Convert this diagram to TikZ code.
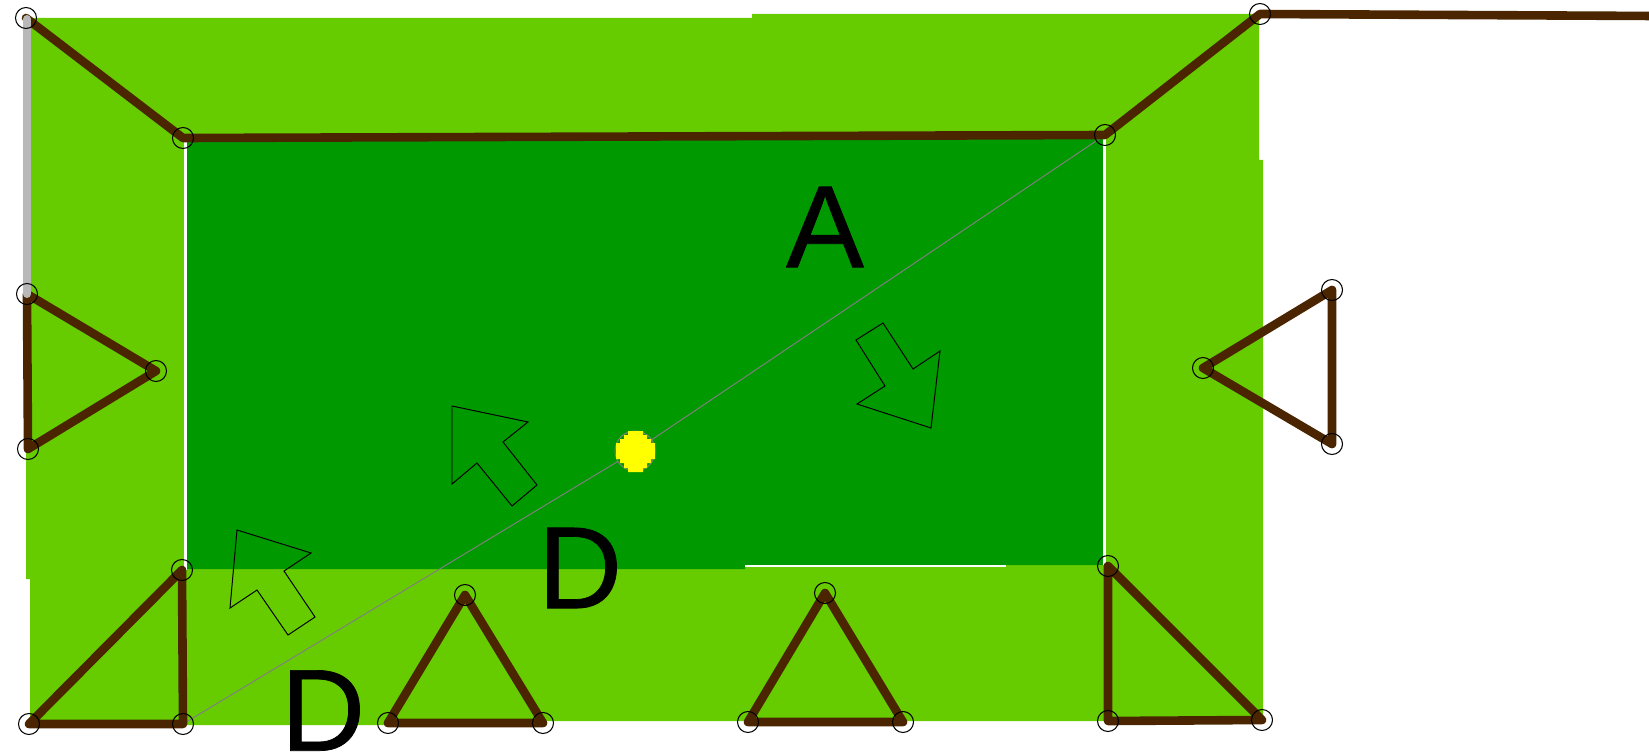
\documentclass[tikz,border=0pt]{standalone}
\usepackage{fontspec}
\usepackage{tikz}
\usetikzlibrary{backgrounds}
\setmainfont{Liberation Sans}
\newfontfamily\letterfont[FakeBold=0.6]{Liberation Sans}
\definecolor{lightgreen}{HTML}{66CC00}
\definecolor{darkgreen}{HTML}{009900}
\definecolor{wire}{HTML}{4A2500}
\definecolor{rail}{HTML}{B8B8B8}
\definecolor{sunyellow}{HTML}{FFFF00}

\begin{document}
\begin{tikzpicture}[
  x=0.025cm, y=-0.025cm,
  vertex/.style={circle, draw=black, line width=0.75pt, minimum size=0.525cm, inner sep=0pt},
  wireline/.style={draw=wire, line width=0.215cm, line join=round, line cap=round},
  arrowmark/.style={draw=black, line width=0.7pt},
  letter/.style={inner sep=0pt, font=\fontsize{83}{83}\letterfont},
  sun/.style={circle, fill=darkgreen, draw=gray, line width=0.7pt, minimum size=1cm, inner sep=0pt}
]
  \useasboundingbox (0,0) rectangle (1649,755);

  % outer ring of corners
  \node[vertex] (ringa) at (26,18) {};
  \node[vertex] (ringb) at (183,138) {};
  \node[vertex] (ringc) at (1105,135) {};
  \node[vertex] (ringd) at (1260,14) {};
  \coordinate (ringend) at (1655,16);

  % left triangle
  \node[vertex] (lefta) at (27,294) {};
  \node[vertex] (leftb) at (156,371) {};
  \node[vertex] (leftc) at (28,449) {};

  % right triangle
  \node[vertex] (righta) at (1203,368) {};
  \node[vertex] (rightb) at (1332,290) {};
  \node[vertex] (rightc) at (1332,444) {};

  % corner bottom left
  \node[vertex] (cornera) at (29,724) {};
  \node[vertex] (cornerb) at (183,724) {};
  \node[vertex] (cornerc) at (182,570) {};

  % bottom triangles
  \node[vertex] (botaa) at (388,723) {};
  \node[vertex] (botab) at (465,595) {};
  \node[vertex] (botac) at (543,723) {};
  \node[vertex] (botba) at (748,722) {};
  \node[vertex] (botbb) at (825,593) {};
  \node[vertex] (botbc) at (903,722) {};

  % corner bottom right
  \node[vertex] (cornerd) at (1108,566) {};
  \node[vertex] (cornere) at (1108,721) {};
  \node[vertex] (cornerf) at (1262,720) {};

  % centre
  \node[sun] (centre) at (635,451) {};
  \fill[sunyellow] (628,431) -- (643,431) -- (643,435) -- (647,435) -- (647,439) -- (651,439) -- (651,443) -- (655,443)
    -- (655,459) -- (651,459) -- (651,463) -- (647,463) -- (647,468) -- (643,468) -- (643,472) -- (628,472)
    -- (628,468) -- (624,468) -- (624,463) -- (620,463) -- (620,459) -- (616,459) -- (616,443) -- (620,443)
    -- (620,439) -- (624,439) -- (624,435) -- (628,435) -- cycle;

  \begin{scope}[on background layer]
    % grass and inner field
    \fill[lightgreen] (30,18) -- (752,18) -- (752,14) -- (1259,14) -- (1259,160) -- (1263,160)
      -- (1263,721) -- (385,721) -- (385,725) -- (30,725) -- (30,579) -- (26,579) -- (26,295) -- (30,295) -- cycle;
    \fill[darkgreen] (186,136) -- (1103,136) -- (1103,565) -- (745,565) -- (745,569) -- (186,569) -- cycle;
    \fill[white] (184,140) rectangle (186.5,570);
    \fill[white] (1103,136) rectangle (1105.5,565);
    \fill[white] (745,565) rectangle (1006,567);

    % wires
    \draw[gray, line width=0.7pt] (cornerb.center) -- (centre.center) -- (ringc.center);
    \draw[wireline] (ringa.center) -- (ringb.center) -- (ringc.center) -- (ringd.center) -- (ringend);
    \draw[wireline] (lefta.center) -- (leftb.center) -- (leftc.center) -- cycle;
    \draw[wireline] (righta.center) -- (rightb.center) -- (rightc.center) -- cycle;
    \draw[wireline] (cornera.center) -- (cornerb.center) -- (cornerc.center) -- cycle;
    \draw[wireline] (botaa.center) -- (botab.center) -- (botac.center) -- cycle;
    \draw[wireline] (botba.center) -- (botbb.center) -- (botbc.center) -- cycle;
    \draw[wireline] (cornerd.center) -- (cornere.center) -- (cornerf.center) -- cycle;
    \draw[rail, line width=0.2cm, line cap=round] (27,19) -- (lefta.center);
  \end{scope}

  % arrows
  \draw[arrowmark] (452,406) -- (528,422) -- (503,442) -- (537,485) -- (512,506) -- (477,463) -- (452,484) -- cycle;
  \draw[arrowmark] (237,530) -- (311,553) -- (284,571) -- (315,617) -- (288,635) -- (257,590) -- (230,608) -- cycle;
  \draw[arrowmark] (883,323) -- (913,369) -- (940,351) -- (931,428) -- (857,404) -- (885,386) -- (856,340) -- cycle;

  % letters
  \node[letter] (lblA) at (825,227) {A};
  \node[letter] (lblDa) at (580,568) {D};
  \node[letter] (lblDb) at (323,710.5) {D};
\end{tikzpicture}
\end{document}
